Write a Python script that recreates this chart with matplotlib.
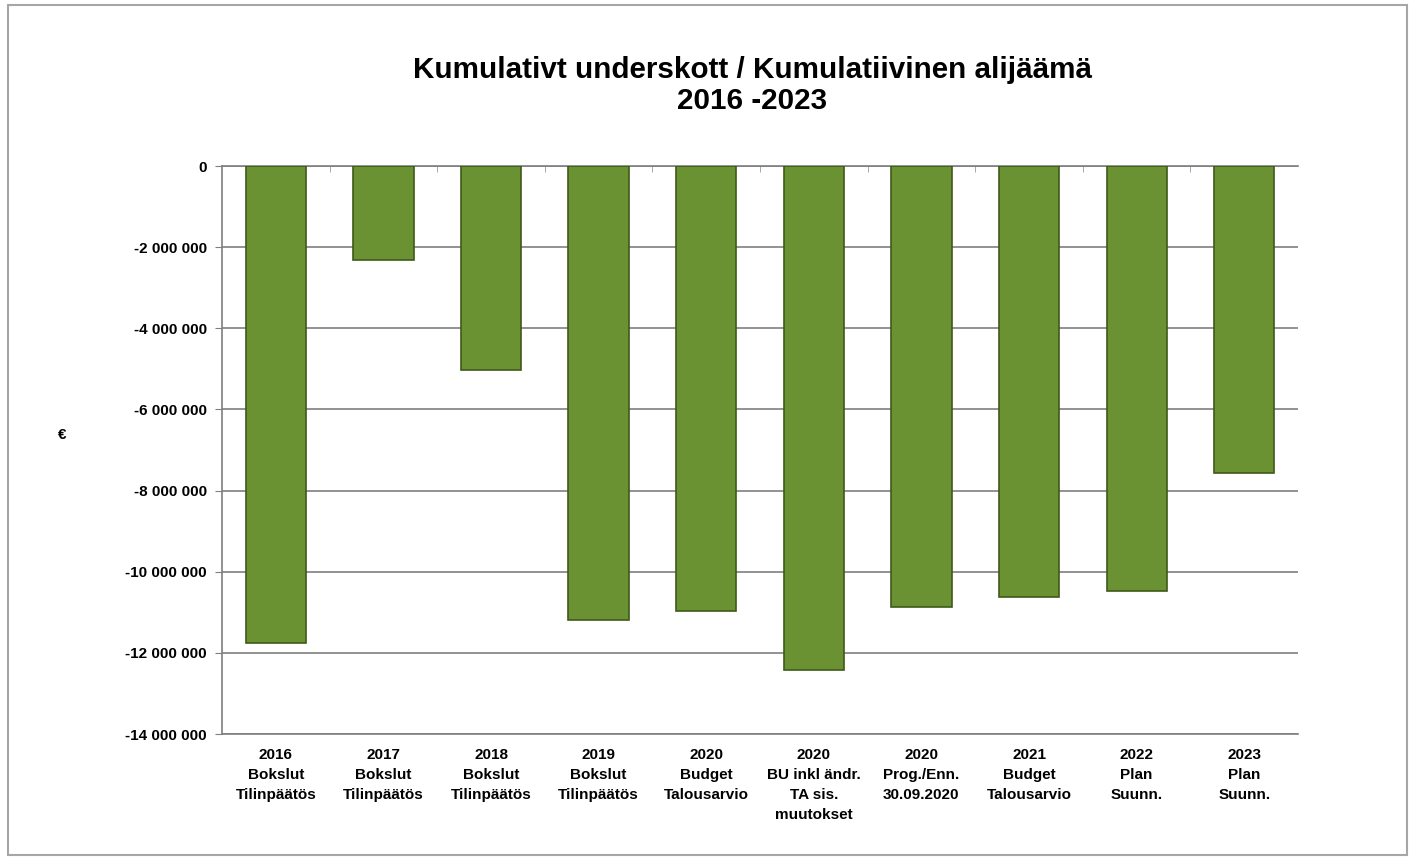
import numpy as np
import matplotlib.pyplot as plt
from matplotlib.patches import Rectangle
from matplotlib.ticker import FuncFormatter

# Data
categories = ['2016\nBokslut\nTilinpäätös', '2017\nBokslut\nTilinpäätös', '2018\nBokslut\nTilinpäätös',
              '2019\nBokslut\nTilinpäätös', '2020\nBudget\nTalousarvio', '2020\nBU inkl ändr.\nTA sis.\nmuutokset',
              '2020\nProg./Enn.\n30.09.2020', '2021\nBudget\nTalousarvio', '2022\nPlan\nSuunn.', '2023\nPlan\nSuunn.']
deficit = [-11760000, -2320000, -5030000, -11190000, -10970000, -12420000,
           -10870000, -10620000, -10480000, -7570000]
yticks = [0, -2000000, -4000000, -6000000, -8000000, -10000000, -12000000, -14000000]

plt.rcParams['font.family'] = ['Liberation Sans', 'DejaVu Sans']

fig = plt.figure(figsize=(14.14, 8.58), dpi=100)
ax = fig.add_axes([0.157, 0.1445, 0.761, 0.662])

x = np.arange(len(categories))
ax.bar(x, deficit, width=0.56, color='#6a9232', edgecolor='#3f5a1a', linewidth=1.2, zorder=3)

ax.set_xlim(-0.5, len(categories) - 0.5)
ax.set_ylim(-14000000, 0)
ax.set_yticks(yticks)
ax.yaxis.set_major_formatter(FuncFormatter(lambda v, p: '{:,.0f}'.format(v).replace(',', ' ')))
ax.grid(axis='y', color='#7f7f7f', linewidth=1.2, zorder=0)

ax.set_xticks(x)
ax.set_xticklabels(categories, fontsize=11, fontweight='bold', linespacing=1.55)
ax.tick_params(axis='x', length=0, pad=10)
ax.set_xticks(x[:-1] + 0.5, minor=True)
ax.tick_params(axis='x', which='minor', top=True, bottom=False, direction='in', length=4, color='#9a9a9a')
ax.tick_params(axis='y', labelsize=11, length=5, color='#7f7f7f', pad=6)
for lbl in ax.get_yticklabels():
    lbl.set_fontweight('bold')

for s in ['left', 'top', 'bottom']:
    ax.spines[s].set_color('#7f7f7f')
    ax.spines[s].set_linewidth(1.2)
ax.spines['right'].set_visible(False)

fig.text(0.044, 0.493, '€', fontsize=11, fontweight='bold', ha='center', va='center')
fig.text(0.532, 0.900, 'Kumulativt underskott / Kumulatiivinen alijäämä\n2016 -2023',
         fontsize=21.3, fontweight='bold', ha='center', va='center', linespacing=1.15)

fig.patches.append(Rectangle((0.006, 0.004), 0.989, 0.99, transform=fig.transFigure,
                             fill=False, edgecolor='#a6a6a6', linewidth=1.5))

plt.savefig('out.png', dpi=100)
